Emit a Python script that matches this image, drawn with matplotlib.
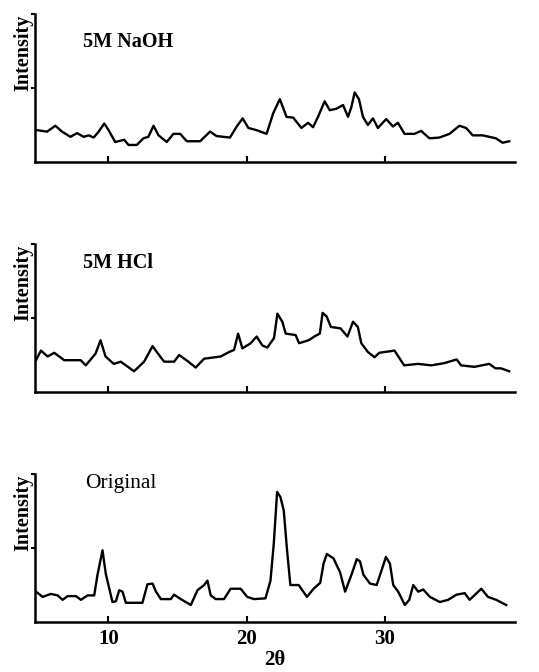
import matplotlib
matplotlib.use('Agg')
from matplotlib import pyplot as plt

plt.rcParams['font.family'] = ['Liberation Serif', 'DejaVu Serif']

# 2theta / intensity traces
naoh_x = [4.85, 5.57, 6.17, 6.65, 7.26, 7.74, 8.22, 8.58, 8.94, 9.3, 9.71, 10.02, 10.5, 11.15,
          11.46, 12.06, 12.54, 12.9, 13.27, 13.63, 14.23, 14.71, 15.2, 15.68, 16.64, 17.36, 17.84,
          18.8, 19.29, 19.72, 20.13, 20.73, 21.45, 21.93, 22.41, 22.89, 23.37, 23.97, 24.45, 24.81,
          25.17, 25.65, 26.02, 26.5, 26.98, 27.34, 27.58, 27.82, 28.13, 28.42, 28.78, 29.14, 29.5,
          30.1, 30.59, 30.95, 31.43, 32.15, 32.63, 33.23, 33.95, 34.68, 35.4, 35.88, 36.36, 37.08,
          37.56, 38.04, 38.52, 39.0]
naoh_y = [0.43, 0.41, 0.49, 0.41, 0.34, 0.39, 0.34, 0.36, 0.33, 0.41, 0.52, 0.43, 0.27, 0.30,
          0.23, 0.23, 0.32, 0.34, 0.49, 0.36, 0.27, 0.38, 0.38, 0.28, 0.28, 0.41, 0.35,
          0.33, 0.48, 0.59, 0.46, 0.43, 0.38, 0.66, 0.85, 0.61, 0.60, 0.46, 0.53, 0.47,
          0.61, 0.82, 0.70, 0.72, 0.77, 0.61, 0.74, 0.94, 0.85, 0.61, 0.50, 0.59, 0.46,
          0.58, 0.48, 0.53, 0.38, 0.38, 0.42, 0.32, 0.33, 0.38, 0.49, 0.46, 0.36, 0.36,
          0.34, 0.32, 0.26, 0.28]

hcl_x = [4.77, 5.13, 5.61, 6.09, 6.81, 8.0, 8.37, 9.08, 9.44, 9.8, 10.4, 10.9, 11.86, 12.59,
         13.2, 13.75, 14.04, 14.76, 15.12, 15.72, 16.32, 16.93, 18.13, 18.73, 19.1, 19.39, 19.7,
         20.3, 20.73, 21.14, 21.5, 21.99, 22.23, 22.59, 22.83, 23.55, 23.8, 24.5, 24.9, 25.3,
         25.5, 25.8, 26.1, 26.8, 27.3, 27.7, 28.05, 28.3, 28.78, 29.26, 29.6, 30.7, 31.4, 32.4,
         33.36, 34.3, 35.2, 35.52, 36.48, 37.56, 38.0, 38.4, 39.0]
hcl_y = [0.43, 0.56, 0.48, 0.53, 0.43, 0.43, 0.36, 0.52, 0.70, 0.48, 0.38, 0.41, 0.28, 0.41,
         0.62, 0.48, 0.41, 0.41, 0.50, 0.42, 0.33, 0.45, 0.48, 0.54, 0.57, 0.79, 0.59,
         0.66, 0.75, 0.63, 0.60, 0.73, 1.06, 0.95, 0.79, 0.77, 0.66, 0.70, 0.75, 0.79,
         1.07, 1.02, 0.88, 0.86, 0.75, 0.95, 0.88, 0.66, 0.54, 0.47, 0.53, 0.56, 0.36, 0.38,
         0.36, 0.39, 0.44, 0.36, 0.34, 0.38, 0.32, 0.32, 0.28]

orig_x = [4.77, 5.25, 5.85, 6.33, 6.69, 7.06, 7.66, 8.02, 8.5, 8.98, 9.22, 9.58, 9.82, 10.3,
          10.55, 10.79, 11.03, 11.27, 12.47, 12.83, 13.2, 13.45, 13.8, 14.52, 14.76, 15.24, 15.97,
          16.45, 16.93, 17.17, 17.41, 17.77, 18.37, 18.85, 19.57, 20.05, 20.53, 21.37, 21.73,
          21.97, 22.21, 22.45, 22.69, 22.93, 23.17, 23.77, 24.37, 24.85, 25.33, 25.57, 25.81,
          26.29, 26.77, 27.13, 27.61, 27.97, 28.21, 28.45, 28.93, 29.41, 29.77, 30.08, 30.37,
          30.61, 30.97, 31.45, 31.77, 32.06, 32.42, 32.78, 33.26, 33.98, 34.58, 35.18, 35.78,
          36.14, 36.98, 37.46, 38.06, 38.78]
orig_y = [0.41, 0.34, 0.38, 0.36, 0.30, 0.35, 0.35, 0.30, 0.36, 0.36, 0.64, 0.97, 0.65, 0.27,
          0.28, 0.43, 0.41, 0.26, 0.26, 0.51, 0.52, 0.41, 0.31, 0.31, 0.37, 0.31, 0.23,
          0.43, 0.50, 0.56, 0.36, 0.31, 0.31, 0.45, 0.45, 0.34, 0.31, 0.32, 0.56,
          1.06, 1.76, 1.69, 1.51, 0.97, 0.50, 0.50, 0.34, 0.45, 0.53, 0.79, 0.92,
          0.86, 0.67, 0.41, 0.65, 0.85, 0.82, 0.64, 0.52, 0.50, 0.70, 0.88, 0.79,
          0.50, 0.41, 0.23, 0.30, 0.50, 0.41, 0.44, 0.34, 0.27, 0.30, 0.37, 0.39,
          0.30, 0.45, 0.34, 0.30, 0.23]

panels = [('5M NaOH', naoh_x, naoh_y, 0.759, 1.62),
          ('5M HCl', hcl_x, hcl_y, 0.4167, 1.74),
          ('Original', orig_x, orig_y, 0.0744, 1.88)]
xticks = [10, 20, 30]

fig = plt.figure(figsize=(5.39, 6.72), dpi=100)
for i, (name, xs, ys, bottom, label_y) in enumerate(panels):
    ax = fig.add_axes([0.065, bottom, 0.89, 0.22])
    ax.plot(xs, ys, color='black', lw=1.7)
    ax.set_xlim(4.7, 39.4)
    ax.set_ylim(0, 2)
    for s in ['top', 'right']:
        ax.spines[s].set_visible(False)
    for s in ['left', 'bottom']:
        ax.spines[s].set_linewidth(1.8)
    ax.set_yticks([1, 2])
    ax.set_yticklabels([])
    ax.tick_params(axis='y', direction='out', length=3, width=1.5)
    ax.set_xticks(xticks)
    ax.tick_params(axis='x', direction='in', length=4, width=1.5)
    if i < 2:
        ax.set_xticklabels([])
    else:
        ax.set_xticklabels([str(t) for t in xticks], fontsize=15, fontweight='bold')
        ax.tick_params(axis='x', pad=5)
        ax.set_xlabel('2θ', fontsize=15, fontweight='bold', labelpad=1)
    ax.text(-0.024, 0.74, 'Intensity', transform=ax.transAxes, rotation=90,
            ha='center', va='center', fontsize=14.5, fontweight='bold')
    if i < 2:
        ax.text(8.2, label_y, name, ha='left', va='center', fontsize=14.5, fontweight='bold')
    else:
        ax.text(8.3, label_y, name, ha='left', va='center', fontsize=15.5)

plt.savefig('out.png', dpi=100)
